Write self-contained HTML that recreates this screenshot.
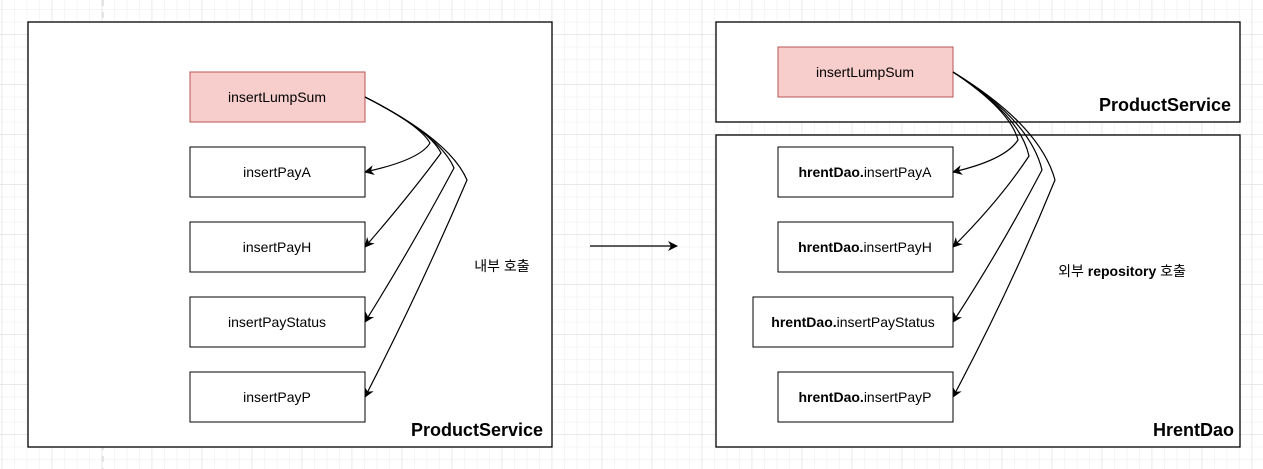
<!DOCTYPE html>
<html><head><meta charset="utf-8"><style>
html,body{margin:0;padding:0;background:#fff}
svg{display:block}
text{font-family:"Liberation Sans","Noto Sans CJK KR",sans-serif}
</style></head><body>
<svg width="1263" height="469" viewBox="0 0 1263 469" xmlns="http://www.w3.org/2000/svg">
<defs>
<pattern id="g" x="1.7" y="9.3" width="12.5" height="12.5" patternUnits="userSpaceOnUse">
<path d="M0 0H12.5M0 0V12.5" stroke="#ececec" stroke-width="1" fill="none"/>
</pattern>
<pattern id="G" x="1.7" y="34.3" width="50" height="50" patternUnits="userSpaceOnUse">
<path d="M0 0H50M0 0V50" stroke="#dcdcdc" stroke-width="1" fill="none"/>
</pattern>
<marker id="a" markerWidth="10" markerHeight="10" refX="9" refY="5" orient="auto" markerUnits="userSpaceOnUse">
<path d="M0,0 L10,5 L0,10 L3,5 z" fill="#000"/>
</marker>
</defs>
<rect width="1263" height="469" fill="url(#g)"/>
<rect width="1263" height="469" fill="url(#G)"/>
<line x1="103" y1="0" x2="103" y2="469" stroke="#d0d0d0" stroke-dasharray="6 6"/>

<g stroke="#000" stroke-width="1.3" fill="#fff">
<rect x="28" y="22" width="524" height="425"/>
<rect x="716" y="22" width="524" height="100"/>
<rect x="716" y="135" width="524" height="312"/>
</g>
<g stroke="#000" stroke-width="1" fill="#fff">
<rect x="190" y="72" width="175" height="50" fill="#f8cecc" stroke="#b85450"/>
<rect x="190" y="147" width="175" height="50"/>
<rect x="190" y="222" width="175" height="50"/>
<rect x="190" y="297" width="175" height="50"/>
<rect x="190" y="372" width="175" height="50"/>
<rect x="778" y="47" width="175" height="50" fill="#f8cecc" stroke="#b85450"/>
<rect x="778" y="147" width="175" height="50"/>
<rect x="778" y="222" width="175" height="50"/>
<rect x="753" y="297" width="200" height="50"/>
<rect x="778" y="372" width="175" height="50"/>
</g>
<g font-size="14" fill="#000" text-anchor="middle">
<text x="277" y="102">insertLumpSum</text>
<text x="277" y="177">insertPayA</text>
<text x="277" y="252">insertPayH</text>
<text x="277" y="327">insertPayStatus</text>
<text x="277" y="402">insertPayP</text>
<text x="865" y="77">insertLumpSum</text>
<text x="865" y="177"><tspan font-weight="bold">hrentDao.</tspan>insertPayA</text>
<text x="865" y="252"><tspan font-weight="bold">hrentDao.</tspan>insertPayH</text>
<text x="853" y="327"><tspan font-weight="bold">hrentDao.</tspan>insertPayStatus</text>
<text x="865" y="402"><tspan font-weight="bold">hrentDao.</tspan>insertPayP</text>
<text x="502" y="271">내부 호출</text>
<text x="1122" y="276"><tspan>외부 </tspan><tspan font-weight="bold">repository</tspan> 호출</text>
</g>
<g font-size="18" font-weight="bold" text-anchor="end">
<text x="543" y="436">ProductService</text>
<text x="1231" y="111">ProductService</text>
<text x="1234" y="436">HrentDao</text>
</g>
<g stroke="#000" stroke-width="1.2" fill="none" marker-end="url(#a)">
<path d="M365,97 Q420,125 430,143 Q420,160 365,172"/>
<path d="M365,97 Q430,130 441,153 Q410,195 365,247"/>
<path d="M365,97 Q440,135 454,168 Q410,250 365,322"/>
<path d="M365,97 Q450,140 467,180 Q420,290 365,397"/>
<path d="M953,72 Q1010,110 1018,140 Q1005,160 953,172"/>
<path d="M953,72 Q1020,115 1029,156 Q1000,200 953,247"/>
<path d="M953,72 Q1030,120 1042,170 Q1000,250 953,322"/>
<path d="M953,72 Q1040,125 1055,180 Q1010,290 953,397"/>
<path d="M590,246 L677,246"/>
</g>
</svg>
</body></html>
